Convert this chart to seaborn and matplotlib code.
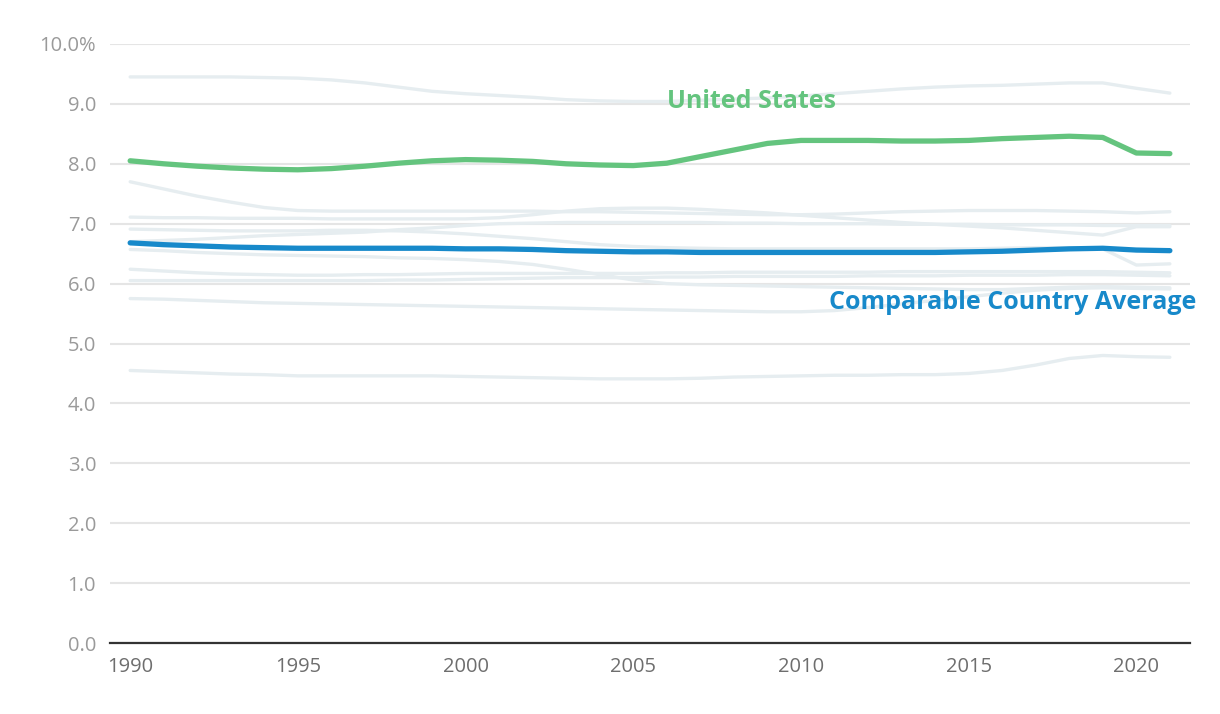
import numpy as np
import pandas as pd
import seaborn as sns
import matplotlib.pyplot as plt

years = list(range(1990, 2022))

us = [8.05, 8.00, 7.96, 7.93, 7.91, 7.90, 7.92, 7.96, 8.01, 8.05, 8.07, 8.06, 8.04, 8.00, 7.98, 7.97,
      8.01, 8.12, 8.23, 8.34, 8.39, 8.39, 8.39, 8.38, 8.38, 8.39, 8.42, 8.44, 8.46, 8.44, 8.18, 8.17]

comparable_avg = [6.68, 6.65, 6.63, 6.61, 6.60, 6.59, 6.59, 6.59, 6.59, 6.59, 6.58, 6.58, 6.57, 6.55, 6.54, 6.53,
                  6.53, 6.52, 6.52, 6.52, 6.52, 6.52, 6.52, 6.52, 6.52, 6.53, 6.54, 6.56, 6.58, 6.59, 6.56, 6.55]

# other comparable countries (unlabelled grey lines)
country_a = [9.45, 9.45, 9.45, 9.45, 9.44, 9.43, 9.40, 9.35, 9.28, 9.21, 9.17, 9.14, 9.11, 9.07, 9.05, 9.04,
             9.04, 9.06, 9.08, 9.10, 9.13, 9.17, 9.21, 9.25, 9.28, 9.30, 9.31, 9.33, 9.35, 9.35, 9.26, 9.18]
country_b = [7.70, 7.58, 7.46, 7.36, 7.27, 7.22, 7.21, 7.21, 7.21, 7.21, 7.21, 7.21, 7.21, 7.20, 7.20, 7.19,
             7.18, 7.17, 7.16, 7.15, 7.15, 7.16, 7.18, 7.20, 7.21, 7.22, 7.22, 7.22, 7.21, 7.20, 7.18, 7.20]
country_c = [7.11, 7.10, 7.10, 7.09, 7.09, 7.09, 7.08, 7.08, 7.08, 7.08, 7.08, 7.10, 7.15, 7.21, 7.25, 7.26,
             7.26, 7.24, 7.21, 7.18, 7.14, 7.10, 7.06, 7.02, 6.99, 6.96, 6.93, 6.89, 6.85, 6.81, 6.95, 6.95]
country_d = [6.91, 6.90, 6.89, 6.88, 6.88, 6.88, 6.89, 6.89, 6.88, 6.86, 6.83, 6.79, 6.75, 6.70, 6.65, 6.62,
             6.60, 6.59, 6.58, 6.58, 6.58, 6.58, 6.58, 6.58, 6.58, 6.58, 6.59, 6.60, 6.60, 6.58, 6.31, 6.33]
country_e = [6.70, 6.72, 6.74, 6.77, 6.80, 6.82, 6.84, 6.86, 6.90, 6.93, 6.97, 7.00, 7.01, 7.02, 7.02, 7.02,
             7.02, 7.02, 7.01, 7.01, 7.00, 7.00, 7.00, 6.99, 6.99, 6.99, 6.98, 6.98, 6.98, 6.97, 6.97, 6.97]
country_f = [6.57, 6.55, 6.52, 6.50, 6.48, 6.47, 6.46, 6.45, 6.43, 6.42, 6.40, 6.37, 6.32, 6.24, 6.15, 6.06,
             6.00, 5.98, 5.97, 5.96, 5.95, 5.94, 5.93, 5.92, 5.91, 5.90, 5.90, 5.92, 5.94, 5.95, 5.94, 5.93]
country_g = [6.24, 6.21, 6.18, 6.16, 6.15, 6.14, 6.14, 6.15, 6.15, 6.16, 6.17, 6.17, 6.17, 6.17, 6.17, 6.17,
             6.18, 6.18, 6.19, 6.19, 6.19, 6.19, 6.19, 6.20, 6.20, 6.20, 6.20, 6.20, 6.20, 6.20, 6.19, 6.18]
country_h = [6.05, 6.05, 6.05, 6.05, 6.05, 6.05, 6.05, 6.05, 6.06, 6.06, 6.07, 6.08, 6.09, 6.10, 6.10, 6.10,
             6.11, 6.11, 6.12, 6.12, 6.12, 6.12, 6.13, 6.13, 6.13, 6.14, 6.14, 6.14, 6.15, 6.15, 6.14, 6.13]
country_i = [5.75, 5.74, 5.72, 5.70, 5.68, 5.67, 5.66, 5.65, 5.64, 5.63, 5.62, 5.61, 5.60, 5.59, 5.58, 5.57,
             5.56, 5.55, 5.54, 5.53, 5.53, 5.55, 5.60, 5.66, 5.72, 5.78, 5.84, 5.89, 5.92, 5.93, 5.92, 5.91]
country_j = [4.55, 4.53, 4.51, 4.49, 4.48, 4.46, 4.46, 4.46, 4.46, 4.46, 4.45, 4.44, 4.43, 4.42, 4.41, 4.41,
             4.41, 4.42, 4.44, 4.45, 4.46, 4.47, 4.47, 4.48, 4.48, 4.50, 4.55, 4.64, 4.75, 4.80, 4.78, 4.77]

others = {'A': country_a, 'B': country_b, 'C': country_c, 'D': country_d, 'E': country_e,
          'F': country_f, 'G': country_g, 'H': country_h, 'I': country_i, 'J': country_j}

y_ticks = [0, 1, 2, 3, 4, 5, 6, 7, 8, 9, 10]
y_tick_labels = ['0.0', '1.0', '2.0', '3.0', '4.0', '5.0', '6.0', '7.0', '8.0', '9.0', '10.0%']
x_ticks = [1990, 1995, 2000, 2005, 2010, 2015, 2020]

green = '#64c47e'
blue = '#1789ca'
grey_line = '#e6edf0'

grey_df = pd.concat([pd.DataFrame({'Year': years, 'Share': v, 'Country': k}) for k, v in others.items()])
main_df = pd.DataFrame({'Year': years, 'US': us, 'Avg': comparable_avg})

sns.set_style('white')
plt.rcParams['font.family'] = ['Open Sans', 'DejaVu Sans']

fig = plt.figure(figsize=(12.2, 7.14), dpi=100)
ax = fig.add_axes([0.0902, 0.0994, 0.8852, 0.839])

sns.lineplot(data=grey_df, x='Year', y='Share', units='Country', estimator=None,
             color=grey_line, linewidth=2.4, ax=ax, zorder=2)
sns.lineplot(data=main_df, x='Year', y='Avg', color=blue, linewidth=3.8, ax=ax, zorder=4)
sns.lineplot(data=main_df, x='Year', y='US', color=green, linewidth=3.8, ax=ax, zorder=4)

ax.set_xlim(1989.4, 2021.6)
ax.set_ylim(0, 10)
ax.set_yticks(y_ticks)
ax.set_yticklabels(y_tick_labels)
ax.set_xticks(x_ticks)
ax.set_xlabel('')
ax.set_ylabel('')
ax.grid(axis='y', color='#e5e5e5', linewidth=1.5, zorder=0)
ax.set_axisbelow(True)
for s in ['top', 'right', 'left']:
    ax.spines[s].set_visible(False)
ax.spines['bottom'].set_color('#333333')
ax.spines['bottom'].set_linewidth(1.6)
ax.spines['bottom'].set_zorder(5)
ax.tick_params(axis='y', length=0, pad=10, labelsize=14.5, labelcolor='#9a9a9a')
ax.tick_params(axis='x', length=0, pad=10, labelsize=14.5, labelcolor='#6e6e6e')

ax.text(2006.0, 9.04, 'United States', color=green, fontsize=18, fontweight='bold',
        ha='left', va='center', zorder=6)
ax.text(2021.8, 5.69, 'Comparable Country Average', color=blue, fontsize=18, fontweight='bold',
        ha='right', va='center', zorder=6, clip_on=False)

fig.savefig('out.png', dpi=100)
